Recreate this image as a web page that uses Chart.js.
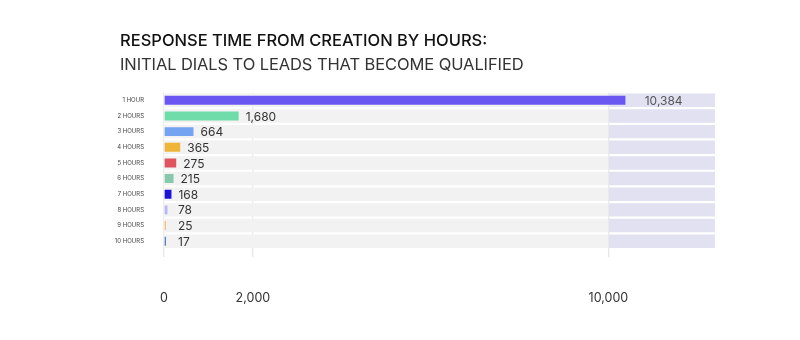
<!DOCTYPE html>
<html lang="en">
<head>
  <meta charset="UTF-8">
  <script src="https://cdn.jsdelivr.net/npm/chart.js"></script>
  <title>Response time from creation by hours</title>
  <style>
    body { margin: 0; background: #fff; }
    .wrap { position: relative; width: 800px; height: 340px; }
    .heading { position: absolute; left: 120px; top: 28px; font-family: Inter, "Open Sans", sans-serif; font-size: 16.5px; line-height: 24px; color: #111; }
    .heading .main { font-weight: 500; }
    .heading .sub { font-weight: 400; color: #333; letter-spacing: -0.1px; }
    canvas { position: absolute; left: 0; top: 0; }
  </style>
</head>
<body>

<div class="wrap">
  <canvas id="hoursChart" width="800" height="340"></canvas>
  <div class="heading">
    <div class="main">RESPONSE TIME FROM CREATION BY HOURS:</div>
    <div class="sub">INITIAL DIALS TO LEADS THAT BECOME QUALIFIED</div>
  </div>
</div>

<script>
  // data
  const hourLabels = ['1 HOUR', '2 HOURS', '3 HOURS', '4 HOURS', '5 HOURS', '6 HOURS', '7 HOURS', '8 HOURS', '9 HOURS', '10 HOURS'];
  const dialCounts = [10384, 1680, 664, 365, 275, 215, 168, 78, 25, 17];
  const barColors = ['#6a56f0', '#70dcaa', '#74a3f2', '#efb43a', '#e0525c', '#86c9ae', '#1a14d8', '#b9b6f6', '#f2c27a', '#5b7fc4'];
  const tickValues = [0, 2000, 10000];
  const trackSplit = 10000;
  const axisMax = 12400;

  const fmt = v => v.toLocaleString('en-US');

  // value labels next to each bar
  const valueLabels = {
    id: 'valueLabels',
    afterDraw(chart) {
      const ctx = chart.ctx;
      const xs = chart.scales.x;
      const meta = chart.getDatasetMeta(0);
      const x0 = xs.getPixelForValue(0);
      ctx.save();
      ctx.font = '12px Inter, "Open Sans", sans-serif';
      ctx.textBaseline = 'middle';
      meta.data.forEach((bar, i) => {
        const v = dialCounts[i];
        if (v > trackSplit) {
          ctx.textAlign = 'center';
          ctx.fillStyle = '#555';
          ctx.fillText(fmt(v), (xs.getPixelForValue(trackSplit) + chart.chartArea.right) / 2 + 2, bar.y + 1);
        } else {
          ctx.textAlign = 'left';
          ctx.fillStyle = '#333';
          ctx.fillText(fmt(v), Math.max(bar.x + 7, x0 + 14), bar.y + 1);
        }
      });
      ctx.restore();
    }
  };

  let ctx = document.getElementById('hoursChart');
  const hoursChart = new Chart(ctx, {
    type: 'bar',
    data: {
      labels: hourLabels,
      datasets: [{
        label: 'Initial dials',
        data: dialCounts,
        backgroundColor: barColors,
        barPercentage: 0.57,
        categoryPercentage: 1,
        grouped: false,
        minBarLength: 2,
        order: 0
      }, {
        label: 'track',
        data: hourLabels.map(() => [0, trackSplit]),
        backgroundColor: '#f2f2f2',
        barPercentage: 0.86,
        categoryPercentage: 1,
        grouped: false,
        order: 2
      }, {
        label: 'track over',
        data: hourLabels.map(() => [trackSplit, axisMax]),
        backgroundColor: '#e1e1f2',
        barPercentage: 0.86,
        categoryPercentage: 1,
        grouped: false,
        order: 2
      }]
    },
    options: {
      indexAxis: 'y',
      responsive: false,
      animation: false,
      layout: { padding: { left: 104, right: 85, top: 92.5, bottom: 0 } },
      plugins: { legend: { display: false }, tooltip: { enabled: false } },
      scales: {
        x: {
          type: 'linear',
          min: 0,
          max: axisMax,
          z: 1,
          afterBuildTicks: axis => { axis.ticks = tickValues.map(v => ({ value: v })); },
          grid: { color: '#ececec', lineWidth: 1.3, tickLength: 8, tickColor: '#e6e6e6' },
          border: { display: false },
          ticks: {
            padding: 34,
            color: '#333',
            font: { family: 'Inter, "Open Sans", sans-serif', size: 12.5 },
            callback: v => fmt(v)
          }
        },
        y: {
          type: 'category',
          grid: { display: false },
          border: { display: false },
          afterFit: s => { s.width = 60; },
          ticks: {
            padding: 12,
            color: '#444',
            font: { family: 'Inter, "Open Sans", sans-serif', size: 6 }
          }
        }
      }
    },
    plugins: [valueLabels]
  });
</script>

</body>
</html>
